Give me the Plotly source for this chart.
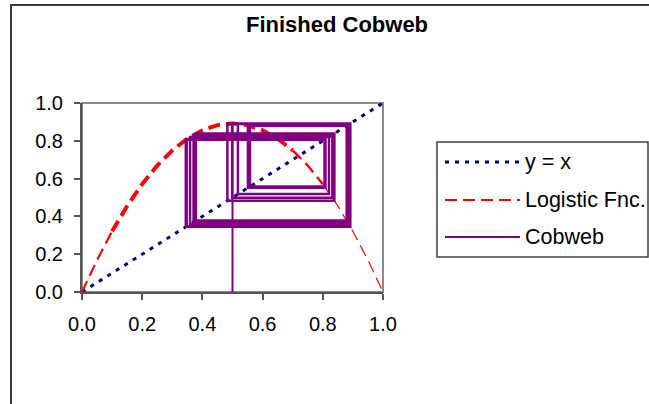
import plotly.graph_objects as go

# ---------------- data ----------------
x_grid = [0.0, 0.05, 0.1, 0.15, 0.2, 0.25, 0.3, 0.35, 0.4, 0.45, 0.5,
          0.55, 0.6, 0.65, 0.7, 0.75, 0.8, 0.85, 0.9, 0.95, 1.0]
logistic_y = [0.0, 0.169, 0.321, 0.455, 0.571, 0.669, 0.749, 0.811, 0.856, 0.883, 0.892,
              0.883, 0.856, 0.811, 0.749, 0.669, 0.571, 0.455, 0.321, 0.169, 0.0]
identity_x = [0.0, 1.0]
identity_y = [0.0, 1.0]
cobweb_iterates = [0.500, 0.8915, 0.3590, 0.8205, 0.5180, 0.8895, 0.3449, 0.8058,
                   0.5581, 0.8795, 0.3781, 0.8385, 0.4830, 0.8905, 0.3478, 0.8089,
                   0.5512, 0.8822, 0.3707, 0.8318, 0.4988, 0.8915, 0.3449, 0.8058,
                   0.5581, 0.8795, 0.3781, 0.8385, 0.4830, 0.8905, 0.3478, 0.8089,
                   0.5512, 0.8822, 0.3707, 0.8318, 0.4988, 0.8915]
tick_vals = [0.0, 0.2, 0.4, 0.6, 0.8, 1.0]
tick_text = ["0.0", "0.2", "0.4", "0.6", "0.8", "1.0"]
legend_names = ["y = x", "Logistic Fnc.", "Cobweb"]

# ---------------- build cobweb path from iterates ----------------
cw_x = [cobweb_iterates[0]]
cw_y = [0.0]
for a, b in zip(cobweb_iterates[:-1], cobweb_iterates[1:]):
    cw_x += [a, b]
    cw_y += [b, b]

FONT = "Liberation Sans, Arial, sans-serif"
RED = "#FF0000"
NAVY = "#000080"
PURPLE = "#800080"
DASH = "12px,6px"
DOT = "4px,6px"

fig = go.Figure()

# y = x
fig.add_trace(go.Scatter(x=identity_x, y=identity_y, mode="lines",
                         line=dict(color=NAVY, width=3, dash=DOT),
                         name=legend_names[0], showlegend=False))

# logistic function, drawn in pieces with varying stroke weight
segments = [(0, 2, 2.2), (2, 14, 4.0), (14, 16, 2.4), (16, 20, 1.2)]
for i0, i1, w in segments:
    fig.add_trace(go.Scatter(x=x_grid[i0:i1 + 1], y=logistic_y[i0:i1 + 1], mode="lines",
                             line=dict(color=RED, width=w, dash=DASH),
                             name=legend_names[1], showlegend=False))

# cobweb: first vertical step is thinner, the rest overlap into heavier bands
fig.add_trace(go.Scatter(x=cw_x[:2], y=cw_y[:2], mode="lines",
                         line=dict(color=PURPLE, width=2),
                         name=legend_names[2], showlegend=False))
fig.add_trace(go.Scatter(x=cw_x[1:], y=cw_y[1:], mode="lines",
                         line=dict(color=PURPLE, width=2.5),
                         name=legend_names[2], showlegend=False))

# ---------------- layout ----------------
W, H = 649, 404
L, R, T, B = 82, 383, 103, 292


def px2x(p):
    return (p - L) / (R - L)


def py2y(p):
    return (B - p) / (B - T)


shapes = [
    # chart area border
    dict(type="rect", xref="paper", yref="paper",
         x0=px2x(11), x1=px2x(720), y0=py2y(600), y1=py2y(5),
         line=dict(color="#3a3a3a", width=2), layer="below"),
    # plot area border
    dict(type="rect", xref="paper", yref="paper", x0=0, x1=1, y0=0, y1=1,
         line=dict(color="#8a8a8a", width=2), layer="below"),
    # legend box
    dict(type="rect", xref="paper", yref="paper",
         x0=px2x(437), x1=px2x(648), y0=py2y(257), y1=py2y(142),
         line=dict(color="#404040", width=1.5), fillcolor="rgba(0,0,0,0)"),
]

legend_rows = [162, 200, 237]
legend_styles = [dict(color=NAVY, width=3, dash=DOT),
                 dict(color=RED, width=2, dash=DASH),
                 dict(color=PURPLE, width=2)]
annotations = []
for name, row, style in zip(legend_names, legend_rows, legend_styles):
    shapes.append(dict(type="line", xref="paper", yref="paper",
                       x0=px2x(445), x1=px2x(520), y0=py2y(row), y1=py2y(row),
                       line=style))
    annotations.append(dict(x=px2x(523), y=py2y(row), xref="paper", yref="paper",
                            text=name, showarrow=False, xanchor="left", yanchor="middle",
                            font=dict(family=FONT, size=21.5, color="#000000")))

fig.update_layout(
    width=W, height=H,
    margin=dict(l=L, r=W - R, t=T, b=H - B, pad=0),
    paper_bgcolor="white", plot_bgcolor="white",
    showlegend=False,
    title=dict(text="<b>Finished Cobweb</b>", x=337 / W, xanchor="center",
               y=1 - 24 / H, yanchor="middle", yref="container",
               font=dict(family=FONT, size=22, color="#000000")),
    shapes=shapes,
    annotations=annotations,
)

axis_common = dict(range=[0, 1], tickvals=tick_vals, ticktext=tick_text,
                   showgrid=False, zeroline=False, showline=True,
                   linecolor="#555555", linewidth=2,
                   ticks="outside", ticklen=6, tickwidth=1.5, tickcolor="#555555",
                   tickfont=dict(family=FONT, size=20, color="#000000"))
fig.update_xaxes(**axis_common, ticklabelstandoff=7)
fig.update_yaxes(**axis_common, ticklabelstandoff=7)

fig.write_html("out.html")
